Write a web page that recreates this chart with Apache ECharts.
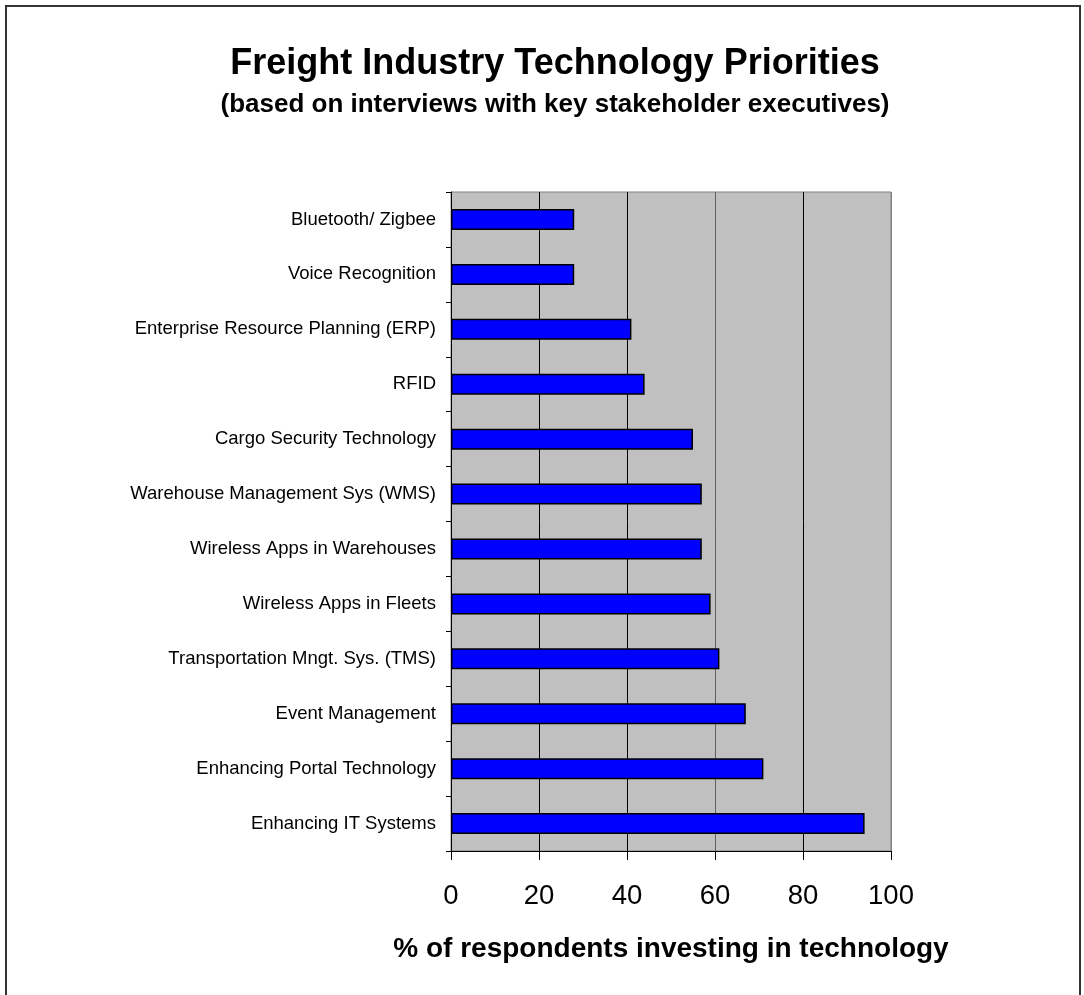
<!DOCTYPE html>
<html>
<head>
<meta charset="utf-8">
<script src="https://cdn.jsdelivr.net/npm/echarts@6/dist/echarts.min.js"></script>
<style>
  html, body { margin: 0; padding: 0; background: #fff; }
  #chart { width: 1084px; height: 995px; }
</style>
</head>
<body>
<div id="chart"></div>
<script>
// Categories listed top to bottom as in the picture
const categories = [
  'Bluetooth/ Zigbee',
  'Voice Recognition',
  'Enterprise Resource Planning (ERP)',
  'RFID',
  'Cargo Security Technology',
  'Warehouse Management Sys (WMS)',
  'Wireless Apps in Warehouses',
  'Wireless Apps in Fleets',
  'Transportation Mngt. Sys. (TMS)',
  'Event Management',
  'Enhancing Portal Technology',
  'Enhancing IT Systems'
];
const values = [28, 28, 41, 44, 55, 57, 57, 59, 61, 67, 71, 94];
const titleText = 'Freight Industry Technology Priorities';
const subtitleText = '(based on interviews with key stakeholder executives)';
const xAxisName = '% of respondents investing in technology';

const FONT = "'Liberation Sans', Arial, sans-serif";
const chart = echarts.init(document.getElementById('chart'), null, { renderer: 'canvas' });

chart.setOption({
  backgroundColor: '#ffffff',
  animation: false,
  graphic: [{
    type: 'rect',
    shape: { x: 6, y: 6, width: 1074, height: 1010 },
    style: { fill: 'none', stroke: '#333333', lineWidth: 2 },
    silent: true,
    z: 100
  }],
  title: [{
    text: titleText,
    left: 550,
    top: 41,
    textAlign: 'center',
    textStyle: { fontFamily: FONT, fontSize: 36, fontWeight: 'bold', color: '#000' }
  }, {
    text: subtitleText,
    left: 550,
    top: 87,
    textAlign: 'center',
    textStyle: { fontFamily: FONT, fontSize: 26, fontWeight: 'bold', color: '#000' }
  }],
  grid: {
    left: 451,
    right: 193,
    top: 192,
    bottom: 144,
    show: true,
    backgroundColor: '#c0c0c0',
    borderColor: '#808080',
    borderWidth: 1,
    containLabel: false
  },
  xAxis: {
    type: 'value',
    min: 0,
    max: 100,
    interval: 20,
    name: xAxisName,
    nameLocation: 'middle',
    nameGap: 84,
    nameTextStyle: { fontFamily: FONT, fontSize: 28, fontWeight: 'bold', color: '#000' },
    axisLine: { show: true, lineStyle: { color: '#000', width: 1 } },
    axisTick: { show: true, length: 9, lineStyle: { color: '#000', width: 1 } },
    axisLabel: { margin: 31, fontFamily: FONT, fontSize: 27.5, color: '#000' },
    splitLine: {
      show: true,
      lineStyle: { color: ['#000', '#000', '#000', '#606060', '#000', '#808080'], width: 1 }
    }
  },
  yAxis: {
    type: 'category',
    data: categories,
    inverse: true,
    axisLine: { show: true, lineStyle: { color: '#000', width: 1 } },
    axisTick: { show: true, length: 5, lineStyle: { color: '#000', width: 1 } },
    axisLabel: { margin: 15, fontFamily: FONT, fontSize: 18.5, color: '#000' },
    splitLine: { show: false }
  },
  series: [{
    type: 'bar',
    data: values,
    barWidth: 21,
    itemStyle: { color: '#0000ff', borderColor: '#000', borderWidth: 1.5 },
    z: 3
  }]
});
</script>
</body>
</html>
